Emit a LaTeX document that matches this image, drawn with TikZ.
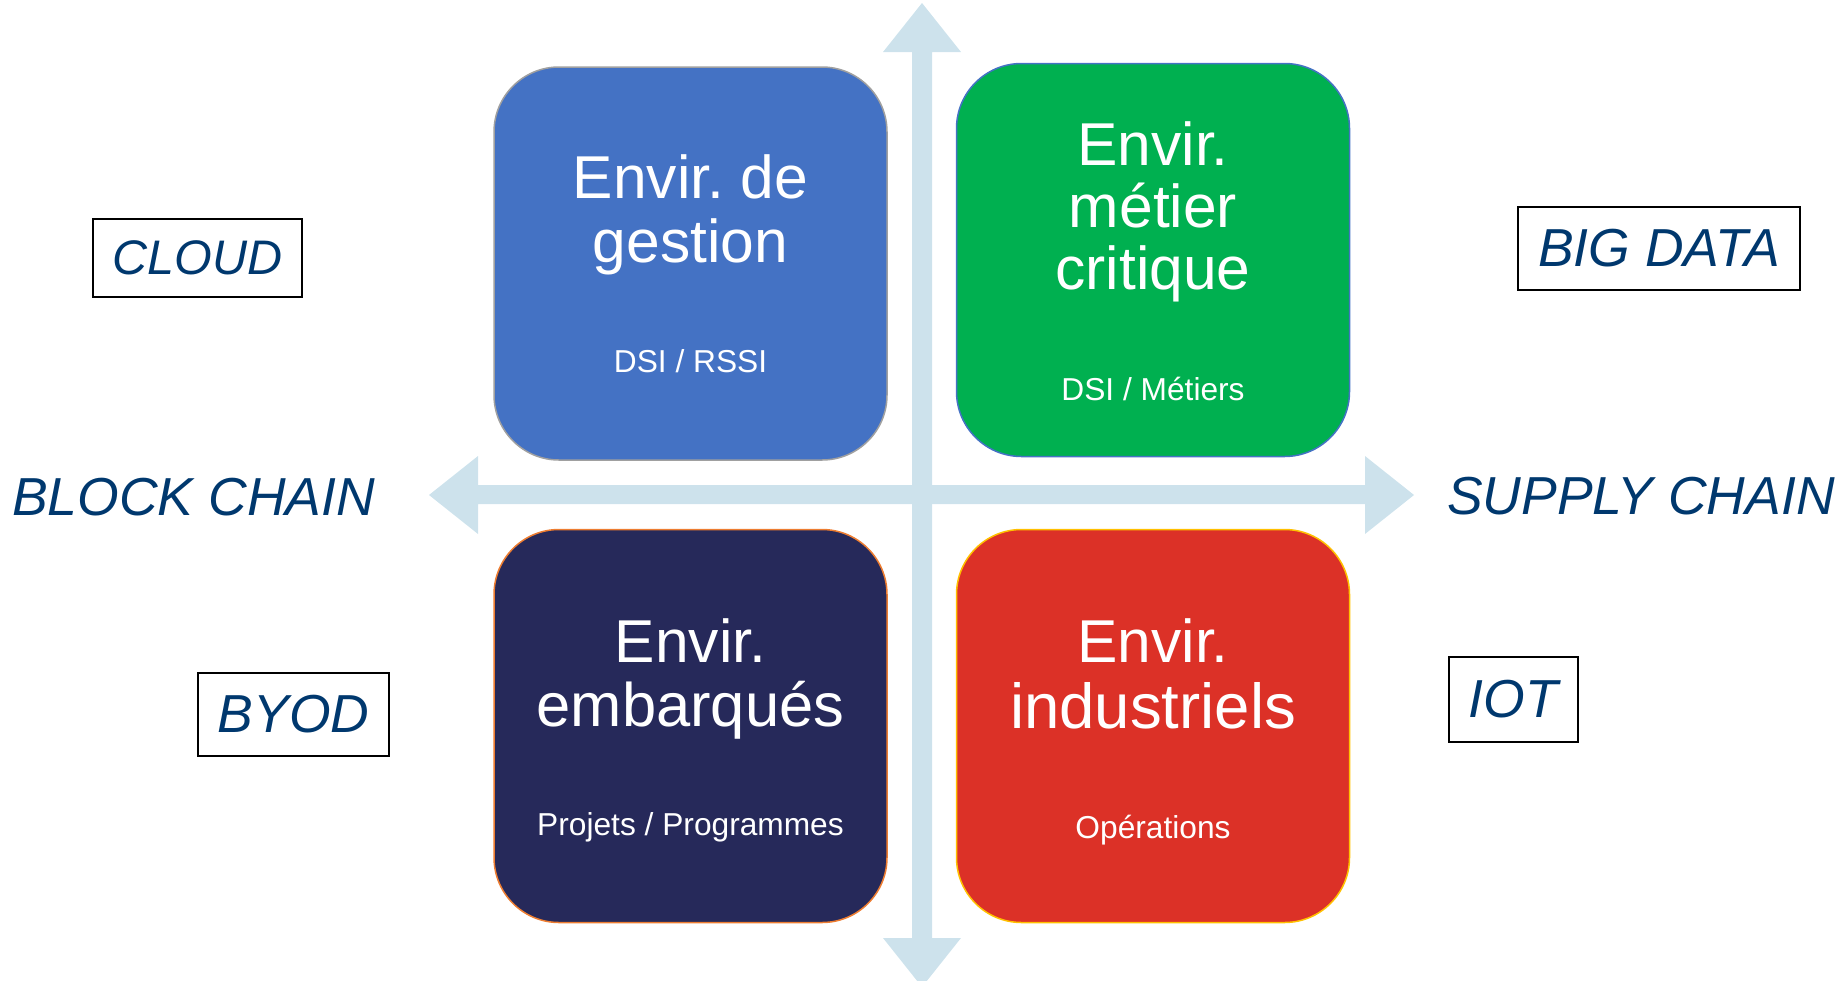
\documentclass[tikz,border=0pt]{standalone}
\usepackage{fontspec}
\setmainfont{Liberation Sans}
\definecolor{qblue}{RGB}{68,114,196}
\definecolor{qgreen}{RGB}{0,176,80}
\definecolor{qnavy}{RGB}{38,41,90}
\definecolor{qred}{RGB}{220,49,39}
\definecolor{bgray}{RGB}{160,160,160}
\definecolor{borange}{RGB}{237,125,49}
\definecolor{bgold}{RGB}{255,192,0}
\definecolor{arrowblue}{RGB}{205,226,236}
\definecolor{labelblue}{RGB}{0,56,110}
\frenchspacing
\begin{document}
\frenchspacing
\begin{tikzpicture}[x=1pt,y=-1pt,
  quad/.style={rectangle, rounded corners=65pt, minimum width=393pt, minimum height=393pt, line width=1.5pt, inner sep=0pt},
  qtitle/.style={text=white, font=\fontsize{60.5}{66}\selectfont, anchor=base, inner sep=0pt},
  qsub/.style={text=white, font=\fontsize{31.7}{36}\selectfont, anchor=base, inner sep=0pt},
  tag/.style={draw=black, line width=1.5pt, text=labelblue, font=\itshape\fontsize{53.5}{60}\selectfont, inner sep=0pt},
  sidelabel/.style={text=labelblue, font=\itshape\fontsize{53.5}{60}\selectfont, inner sep=0pt, anchor=base west},
  axis/.style={fill=arrowblue}]
\useasboundingbox (0,0) rectangle (1844,980);
\clip (0,0) rectangle (1844,980);
% axes
\fill[axis] (912,52) -- (883,52) -- (922,3) -- (961,52) -- (932,52) -- (932,938) -- (961,938) -- (922,987) -- (883,938) -- (912,938) -- cycle;
\fill[axis] (478,485) -- (478,456) -- (429,495) -- (478,534) -- (478,504) -- (1365,504) -- (1365,534) -- (1414,495) -- (1365,456) -- (1365,485) -- cycle;
% quadrants
\node[quad, fill=qblue, draw=bgray] (gestion) at (690.5,263.5) {};
\node[quad, fill=qgreen, draw=qblue] (metier) at (1153,260) {};
\node[quad, fill=qnavy, draw=borange] (embarques) at (690.5,726) {};
\node[quad, fill=qred, draw=bgold] (industriels) at (1153,726) {};
% titles
\node[qtitle] (g1) at (690.5,198) {Envir. de};
\node[qtitle] (g2) at (690.5,262) {gestion};
\node[qsub] (g3) at (690.5,372) {DSI / RSSI};
\node[qtitle] (m1) at (1153,165) {Envir.};
\node[qtitle] (m2) at (1153,227) {métier};
\node[qtitle] (m3) at (1153,289) {critique};
\node[qsub] (m4) at (1153,400) {DSI / Métiers};
\node[qtitle] (e1) at (690.5,662) {Envir.};
\node[qtitle, font=\fontsize{61.5}{66}\selectfont] (e2) at (690.5,726) {embarqués};
\node[qsub] (e3) at (690.5,835) {Projets / Programmes};
\node[qtitle] (i1) at (1153,662) {Envir.};
\node[qtitle, font=\fontsize{63.5}{70}\selectfont] (i2) at (1153,728) {industriels};
\node[qsub] (i3) at (1153,838) {Opérations};
% tags
\node[tag, minimum width=209pt, minimum height=78pt, font=\itshape\fontsize{48.5}{56}\selectfont] (cloud) at (197.5,258) {CLOUD};
\node[tag, minimum width=282pt, minimum height=83pt] (bigdata) at (1659,248.5) {BIG DATA};
\node[tag, minimum width=191pt, minimum height=83pt] (byod) at (293.5,714.5) {BYOD};
\node[tag, minimum width=129pt, minimum height=85pt] (iot) at (1513.5,699.5) {IOT};
\node[sidelabel] (block) at (12,515) {BLOCK CHAIN};
\node[sidelabel] (supply) at (1447,514) {SUPPLY CHAIN};
\end{tikzpicture}
\end{document}
